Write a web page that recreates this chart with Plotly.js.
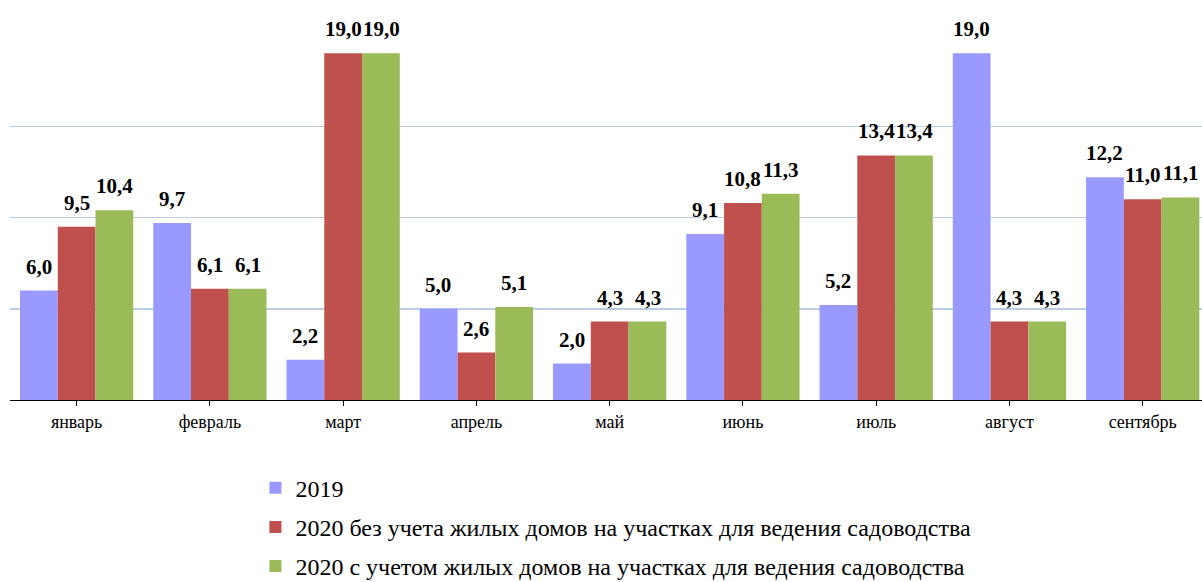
<!DOCTYPE html>
<html>
<head>
<meta charset="utf-8">
<script src="https://cdn.plot.ly/plotly-3.0.1.min.js"></script>
<style>html,body{margin:0;padding:0;background:#fff;}#chart{width:1202px;height:582px;}</style>
</head>
<body>
<div id="chart"></div>
<script>
const months = ["январь","февраль","март","апрель","май","июнь","июль","август","сентябрь"];
const seriesNames = [
  "2019",
  "2020 без учета жилых домов на участках для ведения садоводства",
  "2020 с учетом жилых домов на участках для ведения садоводства"
];
const values2019 = [6.0, 9.7, 2.2, 5.0, 2.0, 9.1, 5.2, 19.0, 12.2];
const values2020without = [9.5, 6.1, 19.0, 2.6, 4.3, 10.8, 13.4, 4.3, 11.0];
const values2020with = [10.4, 6.1, 19.0, 5.1, 4.3, 11.3, 13.4, 4.3, 11.1];
const colors = ["#9999FF", "#C0504D", "#9BBB59"];

const allValues = [values2019, values2020without, values2020with];
const fmt = v => v.toFixed(1).replace('.', ',');
const SERIF = 'Liberation Serif';

const xIdx = months.map((m, i) => i);
const traces = allValues.map((vals, s) => ({
  type: 'bar',
  x: xIdx,
  y: vals,
  name: seriesNames[s],
  legendgroup: 'g' + s,
  marker: {color: colors[s], line: {width: 0}},
  hoverinfo: 'skip'
}));

const barW = 0.285;
const annotations = [];
allValues.forEach((vals, s) => {
  vals.forEach((v, i) => {
    annotations.push({
      x: i + (s - 1) * barW,
      y: v,
      xref: 'x', yref: 'y',
      text: '<b>' + fmt(v) + '</b>',
      showarrow: false,
      yanchor: 'bottom',
      xanchor: 'center',
      yshift: 10,
      font: {family: SERIF, size: 21, color: '#000'}
    });
  });
});

const layout = {
  width: 1202, height: 582,
  margin: {l: 10, r: 0, t: 35, b: 182, autoexpand: false},
  font: {family: SERIF, color: '#000'},
  paper_bgcolor: '#fff', plot_bgcolor: '#fff',
  barmode: 'group',
  bargap: 0.15,
  bargroupgap: 0,
  xaxis: {
    tickmode: 'array', tickvals: xIdx, ticktext: months,
    range: [-0.5, 8.445],
    showline: true, linecolor: '#000', linewidth: 1,
    ticks: 'outside', ticklen: 5, tickcolor: '#000',
    tickson: 'boundaries',
    showgrid: false, zeroline: false,
    tickangle: 0,
    tickfont: {family: SERIF, size: 18, color: '#000'}
  },
  yaxis: {
    range: [0, 20], dtick: 5,
    showticklabels: false, ticks: '',
    showgrid: true, gridcolor: '#B9CDE5', gridwidth: 1.5,
    zeroline: false, showline: false
  },
  showlegend: true,
  legend: {
    xref: 'container', yref: 'container',
    x: 0.2125, y: 0.2, xanchor: 'left', yanchor: 'top',
    orientation: 'v',
    tracegroupgap: 5,
    font: {family: SERIF, size: 24, color: '#000'},
    bgcolor: 'rgba(0,0,0,0)',
    itemwidth: 30
  },
  annotations: annotations
};

Plotly.newPlot('chart', traces, layout, {displayModeBar: false, staticPlot: true});
</script>
</body>
</html>
